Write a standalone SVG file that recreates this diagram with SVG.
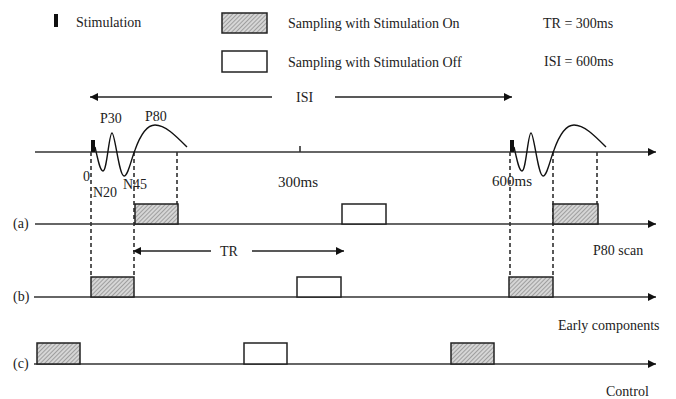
<svg xmlns="http://www.w3.org/2000/svg" width="676" height="399" viewBox="0 0 676 399">
<style>
text{font-family:"Liberation Serif","Times New Roman",serif;font-size:14px;fill:#222}
.ax{stroke:#333;stroke-width:1.6;fill:none}
.ar{stroke:#222;stroke-width:1.5;fill:none}
.dash{stroke:#222;stroke-width:1.5;stroke-dasharray:4,3;fill:none}
.on{fill:url(#hatch);stroke:#222;stroke-width:1.5}
.off{fill:#fff;stroke:#222;stroke-width:1.5}
.wave{stroke:#111;stroke-width:1.4;fill:none}
.mk{fill:#111}
</style>
<defs>
<pattern id="hatch" patternUnits="userSpaceOnUse" width="3" height="3" patternTransform="rotate(45)">
<rect width="3" height="3" fill="#d6d6d6"/>
<line x1="0" y1="0" x2="0" y2="3" stroke="#7a7a7a" stroke-width="1.2"/>
</pattern>
<marker id="ah" viewBox="0 0 10 10" refX="10" refY="5" markerWidth="10" markerHeight="8" markerUnits="userSpaceOnUse" orient="auto-start-reverse">
<path d="M0,0 L10,5 L0,10 z" fill="#111"/>
</marker>
</defs>

<g id="legend">
<rect class="mk" x="54" y="14" width="4" height="13"/>
<text x="76" y="27">Stimulation</text>
<rect class="on" x="222" y="13" width="45" height="20"/>
<text x="288" y="28">Sampling with Stimulation On</text>
<rect class="off" x="222" y="51" width="45" height="21"/>
<text x="288" y="67">Sampling with Stimulation Off</text>
<text x="543" y="28">TR = 300ms</text>
<text x="544" y="66">ISI = 600ms</text>
</g>

<g id="connectors">
<line class="ar" x1="272" y1="97" x2="90" y2="97" marker-end="url(#ah)"/>
<line class="ar" x1="335" y1="97" x2="512" y2="97" marker-end="url(#ah)"/>
<line class="ar" x1="211" y1="251" x2="133" y2="251" marker-end="url(#ah)"/>
<line class="ar" x1="252" y1="251" x2="344" y2="251" marker-end="url(#ah)"/>
<line class="dash" x1="91" y1="152" x2="91" y2="277"/>
<line class="dash" x1="134" y1="152" x2="134" y2="277"/>
<line class="dash" x1="177" y1="152" x2="177" y2="204"/>
<line class="dash" x1="510" y1="152" x2="510" y2="277"/>
<line class="dash" x1="553" y1="152" x2="553" y2="277"/>
<line class="dash" x1="597" y1="152" x2="597" y2="204"/>
</g>
<text x="296" y="102">ISI</text>
<text x="220" y="256">TR</text>

<g id="timeline">
<line class="ax" x1="35" y1="152" x2="656" y2="152" marker-end="url(#ah)"/>
<line class="ax" x1="300" y1="146" x2="300" y2="152"/>
<rect class="mk" x="91" y="140" width="4" height="12"/>
<rect class="mk" x="510" y="140" width="4" height="12"/>
<path class="wave" d="M95,147 C98,160 100,171 103,171 C107,171 109,133 112,133 C115,133 119,176 124,176 C128,176 131,160 135,150 C140,136 146,125 155,125 C165,125 175,135 187,147"/>
<path class="wave" transform="translate(419,0)" d="M95,147 C98,160 100,171 103,171 C107,171 109,133 112,133 C115,133 119,176 124,176 C128,176 131,160 135,150 C140,136 146,125 155,125 C165,125 175,135 187,147"/>
<text x="100" y="123">P30</text>
<text x="145" y="121">P80</text>
<text x="83" y="181">0</text>
<text x="93" y="197">N20</text>
<text x="123" y="189">N45</text>
<text x="278" y="187" style="font-size:15px">300ms</text>
<text x="492" y="186" style="font-size:15px">600ms</text>
</g>

<g id="row-a">
<line class="ax" x1="35" y1="224" x2="656" y2="224" marker-end="url(#ah)"/>
<rect class="on" x="135" y="204" width="43" height="20"/>
<rect class="off" x="342" y="204" width="44" height="20"/>
<rect class="on" x="553" y="204" width="45" height="20"/>
<text x="13" y="228">(a)</text>
<text x="593" y="255">P80 scan</text>
</g>

<g id="row-b">
<line class="ax" x1="34" y1="297" x2="656" y2="297" marker-end="url(#ah)"/>
<rect class="on" x="91" y="277" width="43" height="20"/>
<rect class="off" x="297" y="277" width="44" height="20"/>
<rect class="on" x="509" y="277" width="44" height="20"/>
<text x="13" y="301">(b)</text>
<text x="558" y="330">Early components</text>
</g>

<g id="row-c">
<line class="ax" x1="34" y1="364" x2="656" y2="364" marker-end="url(#ah)"/>
<rect class="on" x="37" y="343" width="43" height="21"/>
<rect class="off" x="244" y="343" width="43" height="21"/>
<rect class="on" x="451" y="343" width="43" height="21"/>
<text x="13" y="368">(c)</text>
<text x="606" y="396">Control</text>
</g>
</svg>
